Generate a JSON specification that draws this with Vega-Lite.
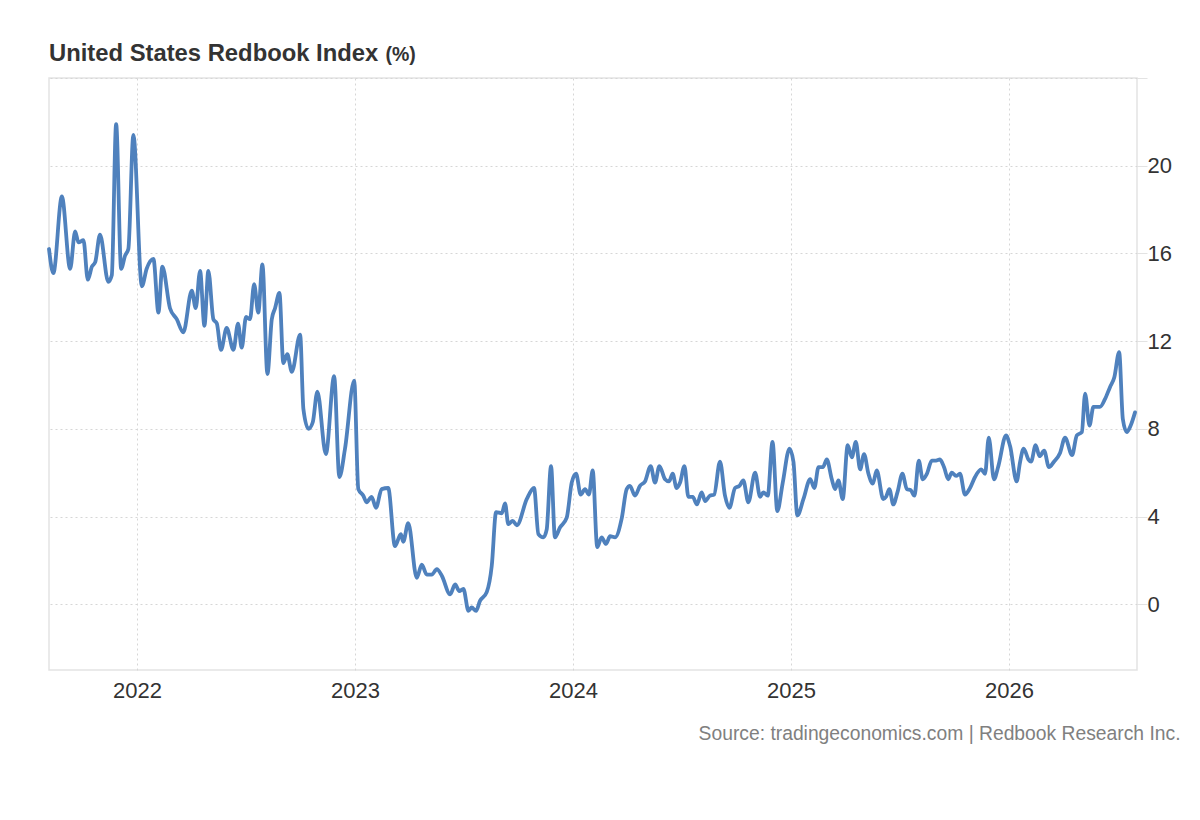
{
  "$schema": "https://vega.github.io/schema/vega-lite/v6.json",
  "width": 1088,
  "height": 592,
  "autosize": {"type": "none"},
  "padding": {"left": 49, "top": 78, "right": 63, "bottom": 150},
  "background": "white",
  "config": {
    "font": "Liberation Sans",
    "view": {"stroke": "#e3e3e3", "strokeWidth": 1.5}
  },
  "title": {
    "text": "United States Redbook Index",
    "anchor": "start",
    "frame": "group",
    "fontSize": 23.8,
    "fontWeight": "bold",
    "color": "#333333",
    "baseline": "alphabetic",
    "offset": -41
  },
  "data": {
    "values": [
      {"t": 2021.596, "v": 16.2}, {"t": 2021.616, "v": 15.1}, {"t": 2021.655, "v": 18.6},
      {"t": 2021.693, "v": 15.3}, {"t": 2021.716, "v": 17.0}, {"t": 2021.731, "v": 16.5},
      {"t": 2021.754, "v": 16.6}, {"t": 2021.774, "v": 14.8}, {"t": 2021.793, "v": 15.4},
      {"t": 2021.808, "v": 15.6}, {"t": 2021.830, "v": 16.85}, {"t": 2021.868, "v": 14.7},
      {"t": 2021.884, "v": 15.0}, {"t": 2021.904, "v": 21.9}, {"t": 2021.927, "v": 15.3},
      {"t": 2021.945, "v": 15.9}, {"t": 2021.960, "v": 16.2}, {"t": 2021.983, "v": 21.4},
      {"t": 2022.022, "v": 14.5}, {"t": 2022.044, "v": 15.3}, {"t": 2022.075, "v": 15.75},
      {"t": 2022.098, "v": 13.3}, {"t": 2022.116, "v": 15.4}, {"t": 2022.151, "v": 13.5},
      {"t": 2022.182, "v": 13.0}, {"t": 2022.212, "v": 12.4}, {"t": 2022.251, "v": 14.3},
      {"t": 2022.269, "v": 13.5}, {"t": 2022.289, "v": 15.2}, {"t": 2022.309, "v": 12.7},
      {"t": 2022.327, "v": 15.2}, {"t": 2022.350, "v": 13.0}, {"t": 2022.366, "v": 12.8},
      {"t": 2022.385, "v": 11.6}, {"t": 2022.411, "v": 12.6}, {"t": 2022.442, "v": 11.6},
      {"t": 2022.463, "v": 12.8}, {"t": 2022.480, "v": 11.7}, {"t": 2022.500, "v": 13.1},
      {"t": 2022.518, "v": 13.0}, {"t": 2022.537, "v": 14.6}, {"t": 2022.556, "v": 13.3},
      {"t": 2022.575, "v": 15.5}, {"t": 2022.598, "v": 10.5}, {"t": 2022.618, "v": 13.0},
      {"t": 2022.633, "v": 13.5}, {"t": 2022.653, "v": 14.2}, {"t": 2022.671, "v": 11.0},
      {"t": 2022.689, "v": 11.4}, {"t": 2022.710, "v": 10.6}, {"t": 2022.748, "v": 12.3},
      {"t": 2022.763, "v": 8.9}, {"t": 2022.786, "v": 8.0}, {"t": 2022.806, "v": 8.3},
      {"t": 2022.827, "v": 9.7}, {"t": 2022.866, "v": 6.85}, {"t": 2022.904, "v": 10.4},
      {"t": 2022.928, "v": 5.8}, {"t": 2022.954, "v": 7.1}, {"t": 2022.996, "v": 10.2},
      {"t": 2023.015, "v": 5.25}, {"t": 2023.038, "v": 4.95}, {"t": 2023.053, "v": 4.65},
      {"t": 2023.076, "v": 4.9}, {"t": 2023.096, "v": 4.4}, {"t": 2023.122, "v": 5.25},
      {"t": 2023.152, "v": 5.3}, {"t": 2023.183, "v": 2.65}, {"t": 2023.210, "v": 3.2},
      {"t": 2023.221, "v": 2.85}, {"t": 2023.244, "v": 3.7}, {"t": 2023.283, "v": 1.2},
      {"t": 2023.306, "v": 1.8}, {"t": 2023.329, "v": 1.35}, {"t": 2023.352, "v": 1.35},
      {"t": 2023.375, "v": 1.6}, {"t": 2023.398, "v": 1.3}, {"t": 2023.436, "v": 0.45},
      {"t": 2023.459, "v": 0.9}, {"t": 2023.478, "v": 0.6}, {"t": 2023.497, "v": 0.7},
      {"t": 2023.520, "v": -0.3}, {"t": 2023.535, "v": -0.15}, {"t": 2023.555, "v": -0.3},
      {"t": 2023.573, "v": 0.15}, {"t": 2023.604, "v": 0.55}, {"t": 2023.627, "v": 1.75},
      {"t": 2023.647, "v": 4.2}, {"t": 2023.673, "v": 4.15}, {"t": 2023.688, "v": 4.6},
      {"t": 2023.703, "v": 3.65}, {"t": 2023.723, "v": 3.8}, {"t": 2023.742, "v": 3.6},
      {"t": 2023.788, "v": 4.8}, {"t": 2023.821, "v": 5.3}, {"t": 2023.841, "v": 3.2},
      {"t": 2023.864, "v": 3.05}, {"t": 2023.879, "v": 3.4}, {"t": 2023.899, "v": 6.3},
      {"t": 2023.917, "v": 3.05}, {"t": 2023.940, "v": 3.5}, {"t": 2023.971, "v": 3.95},
      {"t": 2023.994, "v": 5.55}, {"t": 2024.014, "v": 5.95}, {"t": 2024.035, "v": 5.0},
      {"t": 2024.055, "v": 5.25}, {"t": 2024.073, "v": 5.0}, {"t": 2024.090, "v": 6.1},
      {"t": 2024.111, "v": 2.6}, {"t": 2024.131, "v": 3.05}, {"t": 2024.151, "v": 2.75},
      {"t": 2024.170, "v": 3.1}, {"t": 2024.193, "v": 3.05}, {"t": 2024.223, "v": 3.9},
      {"t": 2024.246, "v": 5.25}, {"t": 2024.261, "v": 5.4}, {"t": 2024.284, "v": 4.95},
      {"t": 2024.307, "v": 5.4}, {"t": 2024.330, "v": 5.6}, {"t": 2024.356, "v": 6.3},
      {"t": 2024.376, "v": 5.55}, {"t": 2024.396, "v": 6.3}, {"t": 2024.422, "v": 5.7},
      {"t": 2024.440, "v": 5.6}, {"t": 2024.457, "v": 5.95}, {"t": 2024.475, "v": 5.3},
      {"t": 2024.491, "v": 5.55}, {"t": 2024.511, "v": 6.3}, {"t": 2024.529, "v": 4.9},
      {"t": 2024.549, "v": 4.9}, {"t": 2024.568, "v": 4.55}, {"t": 2024.590, "v": 5.1},
      {"t": 2024.606, "v": 4.7}, {"t": 2024.628, "v": 4.95}, {"t": 2024.647, "v": 5.0},
      {"t": 2024.674, "v": 6.5}, {"t": 2024.697, "v": 4.95}, {"t": 2024.717, "v": 4.4},
      {"t": 2024.743, "v": 5.3}, {"t": 2024.763, "v": 5.4}, {"t": 2024.781, "v": 5.65},
      {"t": 2024.804, "v": 4.65}, {"t": 2024.835, "v": 6.0}, {"t": 2024.858, "v": 4.9},
      {"t": 2024.873, "v": 5.1}, {"t": 2024.893, "v": 4.95}, {"t": 2024.915, "v": 7.4},
      {"t": 2024.937, "v": 4.25}, {"t": 2024.962, "v": 5.55}, {"t": 2024.993, "v": 7.1},
      {"t": 2025.011, "v": 6.5}, {"t": 2025.029, "v": 4.05}, {"t": 2025.057, "v": 4.8},
      {"t": 2025.088, "v": 5.7}, {"t": 2025.107, "v": 5.3}, {"t": 2025.126, "v": 6.25},
      {"t": 2025.146, "v": 6.25}, {"t": 2025.164, "v": 6.6}, {"t": 2025.187, "v": 5.7},
      {"t": 2025.202, "v": 5.25}, {"t": 2025.217, "v": 5.65}, {"t": 2025.237, "v": 4.8},
      {"t": 2025.260, "v": 7.25}, {"t": 2025.279, "v": 6.7}, {"t": 2025.297, "v": 7.4},
      {"t": 2025.317, "v": 6.15}, {"t": 2025.335, "v": 6.85}, {"t": 2025.355, "v": 5.95},
      {"t": 2025.375, "v": 5.5}, {"t": 2025.393, "v": 6.1}, {"t": 2025.423, "v": 4.8},
      {"t": 2025.436, "v": 4.9}, {"t": 2025.451, "v": 5.25}, {"t": 2025.469, "v": 4.55},
      {"t": 2025.488, "v": 5.1}, {"t": 2025.511, "v": 5.95}, {"t": 2025.531, "v": 5.25},
      {"t": 2025.549, "v": 5.2}, {"t": 2025.566, "v": 4.95}, {"t": 2025.586, "v": 6.55},
      {"t": 2025.604, "v": 5.7}, {"t": 2025.623, "v": 5.95}, {"t": 2025.646, "v": 6.55},
      {"t": 2025.665, "v": 6.55}, {"t": 2025.683, "v": 6.6}, {"t": 2025.702, "v": 6.25},
      {"t": 2025.721, "v": 5.7}, {"t": 2025.737, "v": 6.0}, {"t": 2025.757, "v": 5.85},
      {"t": 2025.775, "v": 5.95}, {"t": 2025.798, "v": 5.0}, {"t": 2025.821, "v": 5.3},
      {"t": 2025.844, "v": 5.8}, {"t": 2025.872, "v": 6.15}, {"t": 2025.890, "v": 5.95},
      {"t": 2025.907, "v": 7.6}, {"t": 2025.931, "v": 5.7}, {"t": 2025.951, "v": 6.3},
      {"t": 2025.986, "v": 7.7}, {"t": 2026.005, "v": 7.2}, {"t": 2026.035, "v": 5.6},
      {"t": 2026.050, "v": 6.45}, {"t": 2026.067, "v": 7.1}, {"t": 2026.089, "v": 6.6},
      {"t": 2026.101, "v": 6.5}, {"t": 2026.122, "v": 7.25}, {"t": 2026.140, "v": 6.75},
      {"t": 2026.161, "v": 7.0}, {"t": 2026.183, "v": 6.25}, {"t": 2026.206, "v": 6.5},
      {"t": 2026.234, "v": 6.9}, {"t": 2026.257, "v": 7.6}, {"t": 2026.289, "v": 6.8},
      {"t": 2026.311, "v": 7.7}, {"t": 2026.334, "v": 7.85}, {"t": 2026.349, "v": 9.6},
      {"t": 2026.369, "v": 8.15}, {"t": 2026.387, "v": 9.0}, {"t": 2026.417, "v": 9.0},
      {"t": 2026.440, "v": 9.35}, {"t": 2026.463, "v": 9.9}, {"t": 2026.483, "v": 10.35},
      {"t": 2026.505, "v": 11.5}, {"t": 2026.522, "v": 8.45}, {"t": 2026.540, "v": 7.85},
      {"t": 2026.558, "v": 8.15}, {"t": 2026.578, "v": 8.75}
    ]
  },
  "mark": {
    "type": "line",
    "interpolate": "monotone",
    "color": "#4f81bd",
    "strokeWidth": 3.8,
    "strokeJoin": "round",
    "strokeCap": "round"
  },
  "encoding": {
    "x": {
      "field": "t",
      "type": "quantitative",
      "scale": {"domain": [2021.596, 2026.587], "nice": false, "zero": false},
      "axis": {
        "values": [2022, 2023, 2024, 2025, 2026],
        "format": "d",
        "domain": false,
        "ticks": false,
        "grid": true,
        "gridColor": "#d6d6d6",
        "gridDash": [2, 3],
        "labelFontSize": 22,
        "labelColor": "#333333",
        "labelPadding": 10,
        "title": "Source: tradingeconomics.com | Redbook Research Inc.",
        "titleFontSize": 19.3,
        "titleFontWeight": "normal",
        "titleColor": "#808080",
        "titleAlign": "right",
        "titleBaseline": "alphabetic",
        "titleX": 1131,
        "titleY": 69
      }
    },
    "y": {
      "field": "v",
      "type": "quantitative",
      "scale": {"domain": [-3, 24], "nice": false, "zero": false},
      "axis": {
        "orient": "right",
        "values": [0, 4, 8, 12, 16, 20, 24],
        "labelExpr": "datum.value > 20 ? '' : datum.label",
        "domain": false,
        "ticks": true,
        "tickSize": 10,
        "tickColor": "#e3e3e3",
        "grid": true,
        "gridColor": "#d6d6d6",
        "gridDash": [2, 3],
        "labelFontSize": 22,
        "labelColor": "#333333",
        "labelAlign": "left",
        "labelBaseline": "middle",
        "labelPadding": 0,
        "title": "(%)",
        "titleAngle": 0,
        "titleFontSize": 19.5,
        "titleFontWeight": "bold",
        "titleColor": "#333333",
        "titleAlign": "left",
        "titleBaseline": "alphabetic",
        "titleX": -752,
        "titleY": -18
      }
    }
  }
}
